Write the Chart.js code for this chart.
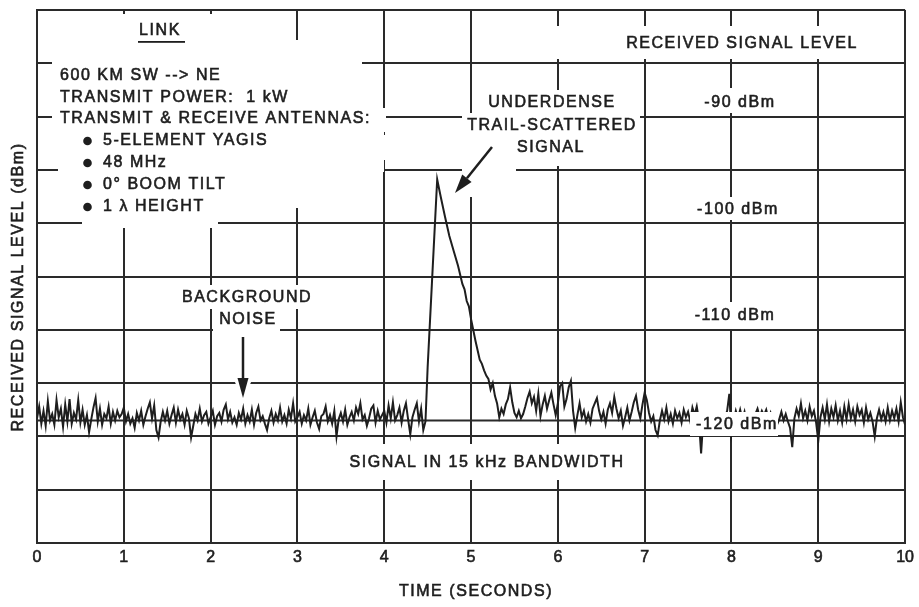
<!DOCTYPE html>
<html>
<head>
<meta charset="utf-8">
<script src="https://cdn.jsdelivr.net/npm/chart.js@4.4.1/dist/chart.umd.min.js"></script>
<style>
html, body { margin: 0; padding: 0; background: #fff; }
#wrap { width: 919px; height: 607px; }
</style>
</head>
<body>
<div id="wrap"><canvas id="trace"></canvas></div>
<script>
const ink = "#1e1e1e"
const grid_ink = "#2a2a2a"
const font_family = "'Liberation Sans', Arial, Helvetica, sans-serif"

// time (seconds) and received level (dBm)
const time = [
    0.000, 0.025, 0.050, 0.075, 0.100, 0.125, 0.150, 0.175, 0.200, 0.225, 0.250, 0.275, 0.300, 0.325, 0.350, 0.375, 0.400, 0.425, 0.450, 0.475,
    0.500, 0.525, 0.550, 0.575, 0.600, 0.625, 0.650, 0.675, 0.700, 0.725, 0.750, 0.775, 0.800, 0.825, 0.850, 0.875, 0.900, 0.925, 0.950, 0.975,
    1.000, 1.025, 1.050, 1.075, 1.100, 1.125, 1.150, 1.175, 1.200, 1.225, 1.250, 1.275, 1.300, 1.325, 1.350, 1.375, 1.400, 1.425, 1.450, 1.475,
    1.500, 1.525, 1.550, 1.575, 1.600, 1.625, 1.650, 1.675, 1.700, 1.725, 1.750, 1.775, 1.800, 1.825, 1.850, 1.875, 1.900, 1.925, 1.950, 1.975,
    2.000, 2.025, 2.050, 2.075, 2.100, 2.125, 2.150, 2.175, 2.200, 2.225, 2.250, 2.275, 2.300, 2.325, 2.350, 2.375, 2.400, 2.425, 2.450, 2.475,
    2.500, 2.525, 2.550, 2.575, 2.600, 2.625, 2.650, 2.675, 2.700, 2.725, 2.750, 2.775, 2.800, 2.825, 2.850, 2.875, 2.900, 2.925, 2.950, 2.975,
    3.000, 3.025, 3.050, 3.075, 3.100, 3.125, 3.150, 3.175, 3.200, 3.225, 3.250, 3.275, 3.300, 3.325, 3.350, 3.375, 3.400, 3.425, 3.450, 3.475,
    3.500, 3.525, 3.550, 3.575, 3.600, 3.625, 3.650, 3.675, 3.700, 3.725, 3.750, 3.775, 3.800, 3.825, 3.850, 3.875, 3.900, 3.925, 3.950, 3.975,
    4.000, 4.025, 4.050, 4.075, 4.100, 4.125, 4.150, 4.175, 4.200, 4.225, 4.250, 4.275, 4.300, 4.325, 4.350, 4.375, 4.400, 4.425, 4.450, 4.475,
    4.500, 4.550, 4.610, 4.650, 4.700, 4.750, 4.800, 4.850, 4.900, 4.925, 4.950, 4.975,
    5.000, 5.050, 5.100, 5.125, 5.150, 5.175, 5.200, 5.225, 5.250, 5.275, 5.300, 5.325,
    5.350, 5.375, 5.400, 5.425, 5.450, 5.475, 5.500, 5.525, 5.550, 5.575, 5.600, 5.625, 5.650, 5.675, 5.700, 5.725, 5.750, 5.775, 5.800, 5.825,
    5.850, 5.875, 5.900, 5.925, 5.950, 5.975, 6.000, 6.025, 6.050, 6.075, 6.100, 6.125, 6.150, 6.175, 6.200, 6.225, 6.250, 6.275, 6.300, 6.325,
    6.350, 6.375, 6.400, 6.425, 6.450, 6.475, 6.500, 6.525, 6.550, 6.575, 6.600, 6.625, 6.650, 6.675, 6.700, 6.725, 6.750, 6.775, 6.800, 6.825,
    6.850, 6.875, 6.900, 6.925, 6.950, 6.975, 7.000, 7.025, 7.050, 7.075, 7.100, 7.125, 7.150, 7.175, 7.200, 7.225, 7.250, 7.275, 7.300, 7.325,
    7.350, 7.375, 7.400, 7.425, 7.450, 7.475, 7.500, 7.525, 7.550, 7.575, 7.600, 7.625, 7.650, 7.675, 7.700, 7.725, 7.750, 7.775, 7.800, 7.825,
    7.850, 7.875, 7.900, 7.925, 7.950, 7.975, 8.000, 8.025, 8.050, 8.075, 8.100, 8.125, 8.150, 8.175, 8.200, 8.225, 8.250, 8.275, 8.300, 8.325,
    8.350, 8.375, 8.400, 8.425, 8.450, 8.475, 8.500, 8.525, 8.550, 8.575, 8.600, 8.625, 8.650, 8.675, 8.700, 8.725, 8.750, 8.775, 8.800, 8.825,
    8.850, 8.875, 8.900, 8.925, 8.950, 8.975, 9.000, 9.025, 9.050, 9.075, 9.100, 9.125, 9.150, 9.175, 9.200, 9.225, 9.250, 9.275, 9.300, 9.325,
    9.350, 9.375, 9.400, 9.425, 9.450, 9.475, 9.500, 9.525, 9.550, 9.575, 9.600, 9.625, 9.650, 9.675, 9.700, 9.725, 9.750, 9.775, 9.800, 9.825,
    9.850, 9.875, 9.900, 9.925, 9.950, 9.975, 10.000
]
const level = [
    -118.3, -117.2, -118.8, -117.6, -119.0, -116.7, -118.5, -117.9, -118.9, -116.6, -118.2, -117.4, -119.1, -117.0, -118.6, -116.5, -118.8, -117.8, -118.4, -116.6,
    -118.7, -117.5, -118.9, -118.0, -119.6, -118.4, -117.3, -116.4, -118.6, -117.4, -118.9, -117.9, -118.3, -117.2, -118.8, -117.7, -118.5, -117.6, -118.2, -117.9,
    -117.3, -118.6, -117.9, -118.8, -118.3, -119.2, -117.8, -118.5, -117.6, -118.9, -118.1, -117.4, -116.8, -118.3, -117.1, -119.4, -120.1, -118.6, -117.7, -118.5,
    -117.6, -118.8, -118.0, -117.3, -118.7, -117.5, -118.4, -117.9, -118.9, -117.6, -118.3, -120.1, -119.0, -117.9, -118.5, -117.4, -118.6, -118.0, -117.7, -118.8,
    -118.2, -117.6, -118.9, -118.1, -117.8, -118.6, -117.5, -117.0, -118.4, -117.7, -118.7, -118.2, -118.9, -117.8, -118.4, -117.4, -118.8, -118.0, -118.6, -117.5,
    -118.9, -117.8, -117.2, -118.5, -118.1, -118.8, -119.4, -118.3, -117.6, -118.7, -117.9, -118.5, -117.3, -118.6, -118.0, -118.8, -117.5, -118.3, -116.9, -118.6,
    -118.2, -117.7, -118.8, -118.0, -118.5, -117.4, -118.9, -118.2, -117.6, -118.7, -119.3, -118.1, -117.9, -117.2, -118.6, -118.0, -118.8, -117.6, -120.0, -118.4,
    -117.8, -118.6, -117.5, -118.9, -118.2, -117.7, -118.5, -117.3, -117.9, -116.9, -118.4, -118.0, -119.0, -118.3, -117.4, -117.1, -118.7, -117.6, -118.4, -118.0,
    -117.6, -118.7, -117.1, -118.3, -116.8, -118.5, -118.0, -117.3, -118.7, -117.6, -116.9, -118.4, -119.8, -118.2, -117.5, -116.9, -118.6, -117.4, -119.4, -118.6,
    -113.5, -105.5, -95.9, -97.5, -99.4, -101.2, -102.6, -104.0, -105.7, -106.2, -107.3, -107.8,
    -109.0, -111.0, -112.8, -113.2, -113.8, -114.3, -114.6, -115.6, -115.0, -116.2, -116.9, -118.2,
    -117.4, -117.9, -117.0, -116.5, -115.4, -116.8, -117.8, -118.2, -117.6, -118.3, -117.9, -117.2, -116.4, -115.8, -116.9, -116.3, -117.6, -116.0, -118.1, -117.0,
    -116.2, -117.4, -116.6, -115.9, -117.0, -118.0, -116.9, -115.3, -115.0, -117.2, -116.5, -115.4, -114.8, -117.6, -119.2, -118.0, -116.9, -118.2, -117.6, -118.6,
    -117.9, -118.7, -117.4, -116.9, -116.4, -117.6, -118.4, -117.7, -118.8, -117.5, -116.9, -117.8, -116.3, -117.4, -118.3, -117.6, -119.0, -118.2, -117.3, -118.5,
    -117.7, -116.8, -116.2, -117.5, -118.3, -117.0, -115.9, -116.6, -117.8, -118.6, -118.1, -119.4, -119.9, -118.5, -117.6, -118.4, -117.3, -118.6, -117.9, -118.8,
    -117.6, -118.3, -117.8, -118.7, -117.5, -118.2, -117.7, -118.6, -117.3, -118.0, -117.2, -118.5, -121.6, -118.4, -118.8, -118.3, -118.9, -118.5, -119.0, -118.6,
    -118.9, -118.4, -118.8, -118.2, -117.6, -116.0, -119.8, -118.6, -117.6, -118.3, -117.5, -118.4, -117.7, -118.8, -118.3, -118.9, -118.4, -117.9, -117.4, -118.2,
    -117.6, -118.0, -117.5, -118.4, -117.8, -118.6, -118.2, -118.9, -118.4, -117.7, -118.5, -117.9, -118.6, -119.2, -121.0, -118.3, -117.4, -118.1, -116.9, -118.3,
    -117.6, -118.5, -117.2, -118.1, -117.6, -118.7, -120.4, -118.2, -117.3, -118.4, -117.0, -118.6, -117.4, -118.2, -117.1, -118.5, -117.6, -118.7, -117.2, -118.4,
    -117.0, -118.3, -117.5, -118.6, -117.2, -118.0, -117.5, -118.7, -117.3, -118.4, -117.8, -118.6, -120.0, -118.3, -117.5, -118.4, -117.7, -118.6, -117.3, -118.5,
    -117.6, -118.3, -117.4, -118.6, -116.8, -118.2, -118.9
]

const time_ticks = [0, 1, 2, 3, 4, 5, 6, 7, 8, 9, 10]
const level_grid = [-130, -125, -120, -115, -110, -105, -100, -95, -90, -85, -80]
const noise_floor = -118.5  // extra line ruled on the chart paper

// white paste-up boxes that break the grid under the lettering
const blanks = [
    [52, 14, 292, 40], [52, 40, 362, 108], [52, 108, 386, 132], [300, 135, 390, 160],
    [58, 130, 384, 172], [80, 170, 300, 208], [82, 206, 218, 228],
    [480, 26, 904, 59], [700, 88, 780, 113],
    [480, 90, 625, 113], [462, 113, 640, 137], [470, 137, 590, 166], [462, 137, 516, 197],
    [700, 197, 780, 220], [700, 302, 780, 329], [690, 412, 778, 436],
    [340, 444, 632, 480], [175, 285, 318, 309], [213, 309, 280, 334]
]

function put_text(ctx, s, x, y, align) {
    ctx.textAlign = align || 'center'
    ctx.fillText(s, x, y)
    ctx.strokeText(s, x, y)  // thickens the letters a little, like the print
}

function arrow(ctx, x1, y1, x2, y2, head, half) {
    const ang = Math.atan2(y2 - y1, x2 - x1)
    const bx = x2 - Math.cos(ang) * head, by = y2 - Math.sin(ang) * head
    const nx = -Math.sin(ang) * half, ny = Math.cos(ang) * half
    // white halo first so the grid is broken round the arrow
    ctx.strokeStyle = '#fff'
    ctx.lineWidth = 8
    ctx.beginPath(); ctx.moveTo(x1, y1); ctx.lineTo(bx, by); ctx.stroke()
    ctx.fillStyle = '#fff'
    ctx.beginPath()
    ctx.moveTo(x2 + Math.cos(ang) * 2, y2 + Math.sin(ang) * 2)
    ctx.lineTo(bx + nx * 1.8, by + ny * 1.8); ctx.lineTo(bx - nx * 1.8, by - ny * 1.8)
    ctx.closePath(); ctx.fill()
    ctx.strokeStyle = ink
    ctx.lineWidth = 2.5
    ctx.beginPath(); ctx.moveTo(x1, y1); ctx.lineTo(bx, by); ctx.stroke()
    ctx.fillStyle = ink
    ctx.beginPath()
    ctx.moveTo(x2, y2); ctx.lineTo(bx + nx, by + ny); ctx.lineTo(bx - nx, by - ny)
    ctx.closePath(); ctx.fill()
}

const paper = {
    id: 'paper',
    beforeDatasetsDraw(chart) {
        const {ctx, chartArea: a} = chart
        const py = chart.scales.y.getPixelForValue(noise_floor)
        ctx.save()
        ctx.strokeStyle = grid_ink
        ctx.lineWidth = 2
        ctx.beginPath(); ctx.moveTo(a.left, py); ctx.lineTo(a.right, py); ctx.stroke()
        ctx.restore()
    },
    afterDatasetsDraw(chart) {
        const ctx = chart.ctx
        ctx.save()
        ctx.fillStyle = '#fff'
        blanks.forEach(([x1, y1, x2, y2]) => ctx.fillRect(x1, y1, x2 - x1, y2 - y1))

        arrow(ctx, 492, 147, 455, 193, 19, 6)
        arrow(ctx, 243, 337, 243, 398, 20, 5.5)

        ctx.fillStyle = ink
        ctx.strokeStyle = ink
        ctx.lineWidth = 0.6
        ctx.font = `16px ${font_family}`
        ctx.letterSpacing = '1.55px'
        ctx.textBaseline = 'middle'

        // link description block
        put_text(ctx, 'LINK', 160, 31)
        ctx.fillRect(138, 41, 47, 1.8)
        put_text(ctx, '600 KM SW --> NE', 60, 76, 'left')
        put_text(ctx, 'TRANSMIT POWER:  1 kW', 60, 97.5, 'left')
        put_text(ctx, 'TRANSMIT & RECEIVE ANTENNAS:', 60, 119, 'left')
        const bullets = ['5-ELEMENT YAGIS', '48 MHz', '0° BOOM TILT', '1 λ HEIGHT']
        bullets.forEach((s, i) => {
            const by = 141 + i * 22
            ctx.beginPath(); ctx.arc(87.5, by, 4.3, 0, Math.PI * 2); ctx.fill()
            put_text(ctx, s, 103, by, 'left')
        })

        put_text(ctx, 'RECEIVED SIGNAL LEVEL', 742, 44)
        put_text(ctx, '-90 dBm', 740, 103)
        put_text(ctx, '-100 dBm', 738, 210)
        put_text(ctx, '-110 dBm', 735, 316)
        put_text(ctx, '-120 dBm', 737, 425)

        put_text(ctx, 'UNDERDENSE', 552, 103)
        put_text(ctx, 'TRAIL-SCATTERED', 552, 126)
        put_text(ctx, 'SIGNAL', 551, 148)
        put_text(ctx, 'BACKGROUND', 247, 298)
        put_text(ctx, 'NOISE', 248, 320)
        put_text(ctx, 'SIGNAL IN 15 kHz BANDWIDTH', 487, 463)

        // axis titles
        put_text(ctx, 'TIME (SECONDS)', 476, 592)
        ctx.save()
        ctx.translate(19, 287)
        ctx.rotate(-Math.PI / 2)
        put_text(ctx, 'RECEIVED SIGNAL LEVEL (dBm)', 0, 0)
        ctx.restore()
        ctx.restore()
    }
}

const ctx1 = document.getElementById('trace')
new Chart(ctx1, {
    type: 'line',
    data: {
        datasets: [{
            data: time.map((t, i) => ({x: t, y: level[i]})),
            borderColor: ink,
            borderWidth: 2,
            pointRadius: 0,
            tension: 0,
            fill: false,
        }]
    },
    options: {
        responsive: true,
        maintainAspectRatio: false,
        animation: false,
        events: [],
        layout: {
            padding: {top: 10, right: 12, left: 0, bottom: 0}
        },
        plugins: {
            legend: {display: false},
            tooltip: {enabled: false},
        },
        scales: {
            x: {
                type: 'linear',
                min: 0,
                max: 10,
                afterBuildTicks(scale) {
                    scale.ticks = time_ticks.map((v) => ({value: v}))
                },
                afterFit(scale) {
                    scale.height = 64
                },
                ticks: {
                    color: ink,
                    padding: 5,
                    maxRotation: 0,
                    autoSkip: false,
                    textStrokeColor: ink,
                    textStrokeWidth: 0.6,
                    font: {family: font_family, size: 16},
                },
                grid: {
                    color: grid_ink,
                    lineWidth: 2,
                    drawTicks: false,
                },
                border: {color: grid_ink, width: 2},
            },
            y: {
                min: -130,
                max: -80,
                afterBuildTicks(scale) {
                    scale.ticks = level_grid.map((v) => ({value: v}))
                },
                afterFit(scale) {
                    scale.width = 37
                },
                ticks: {display: false},
                grid: {
                    color: grid_ink,
                    lineWidth: 2,
                    drawTicks: false,
                },
                border: {color: grid_ink, width: 2},
            }
        }
    },
    plugins: [paper]
});
</script>
</body>
</html>
